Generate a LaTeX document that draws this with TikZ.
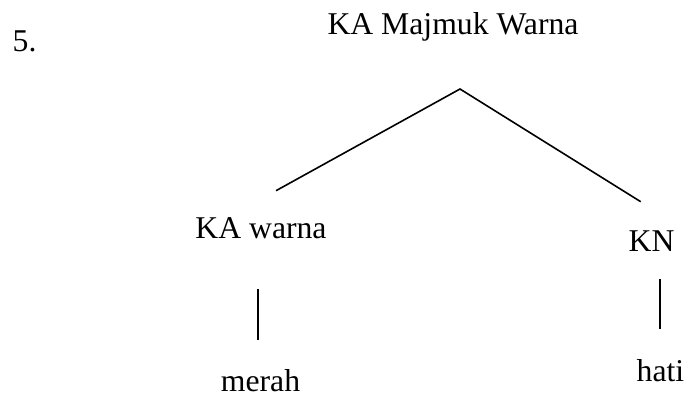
\documentclass[tikz,border=0pt]{standalone}
\usepackage{fontspec}
\setmainfont{Liberation Serif}
\begin{document}
\begin{tikzpicture}[x=1pt,y=-1pt,
  lbl/.style={inner sep=0pt,anchor=base,font=\fontsize{31.7}{38}\selectfont},
  edge/.style={line width=1.6pt,line cap=butt}]
\useasboundingbox (0,0) rectangle (685,397);
\node[lbl,anchor=base west] (num) at (12.5,51) {5.};
\node[lbl] (root) at (453,34) {KA Majmuk Warna};
\node[lbl] (kaw) at (261,238) {KA warna};
\node[lbl] (kn) at (651.5,251.7) {KN};
\node[lbl] (merah) at (260.5,391) {merah};
\node[lbl] (hati) at (660.5,381.7) {hati};
\coordinate (apex) at (460,89);
\coordinate (lend) at (276,190.7);
\coordinate (rend) at (640.7,201.7);
\coordinate (v1top) at (258,289);
\coordinate (v1bot) at (258,340);
\coordinate (v2top) at (660,279);
\coordinate (v2bot) at (660,329);
\draw[edge] (lend) -- (apex) -- (rend);
\draw[edge] (v1top) -- (v1bot);
\draw[edge] (v2top) -- (v2bot);
\end{tikzpicture}
\end{document}
